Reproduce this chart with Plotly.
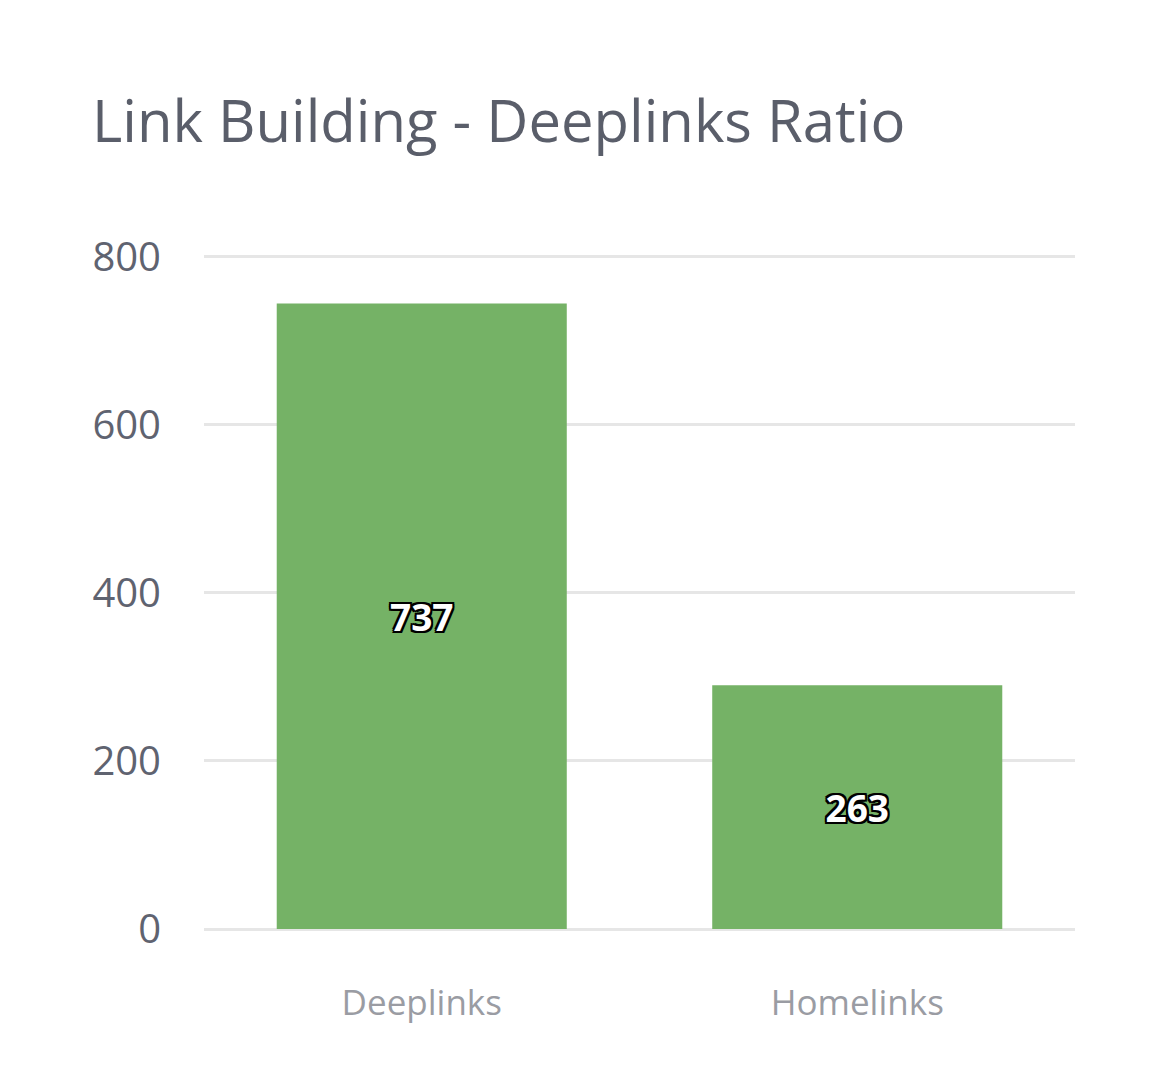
import plotly.graph_objects as go

# data
categories = ["Deeplinks", "Homelinks"]
bar_heights = [744, 290]
bar_labels = ["737", "263"]
y_ticks = [0, 200, 400, 600, 800]

GREEN = "#75b266"
GRID = "#e6e6e6"
OUTLINE = ", ".join(f"{dx}px {dy}px 0 #000" for dx in (-2, 0, 2) for dy in (-2, 0, 2))

fig = go.Figure()
fig.add_trace(go.Bar(
    x=categories,
    y=bar_heights,
    text=bar_labels,
    textposition="inside",
    insidetextanchor="middle",
    textangle=0,
    textfont=dict(color="#ffffff", size=37, family="Open Sans", weight="bold", shadow=OUTLINE),
    marker=dict(color=GREEN, line=dict(width=0)),
    hoverinfo="x+text",
))

fig.update_layout(
    width=1166,
    height=1080,
    paper_bgcolor="#ffffff",
    plot_bgcolor="#ffffff",
    margin=dict(l=196, r=99, t=246, b=159),
    bargap=0.334,
    showlegend=False,
    title=dict(
        text="Link Building - Deeplinks Ratio",
        font=dict(family="Open Sans", size=58, color="#5a5e6a"),
        xref="container", x=84 / 1166, xanchor="left",
        yref="container", y=1 - 114 / 1080, yanchor="middle",
    ),
    font=dict(family="Open Sans"),
)
fig.update_xaxes(
    showgrid=False,
    showline=False,
    ticks="",
    tickfont=dict(size=35, color="#9a9ca3"),
    ticklabelstandoff=50,
)
fig.update_yaxes(
    range=[0, 803],
    tickvals=y_ticks,
    showgrid=True,
    gridcolor=GRID,
    gridwidth=3,
    zeroline=True,
    zerolinecolor=GRID,
    zerolinewidth=3,
    showline=False,
    ticks="",
    tickfont=dict(size=40, color="#5f6370"),
    ticklabelstandoff=42,
)

fig.write_html("out.html")
